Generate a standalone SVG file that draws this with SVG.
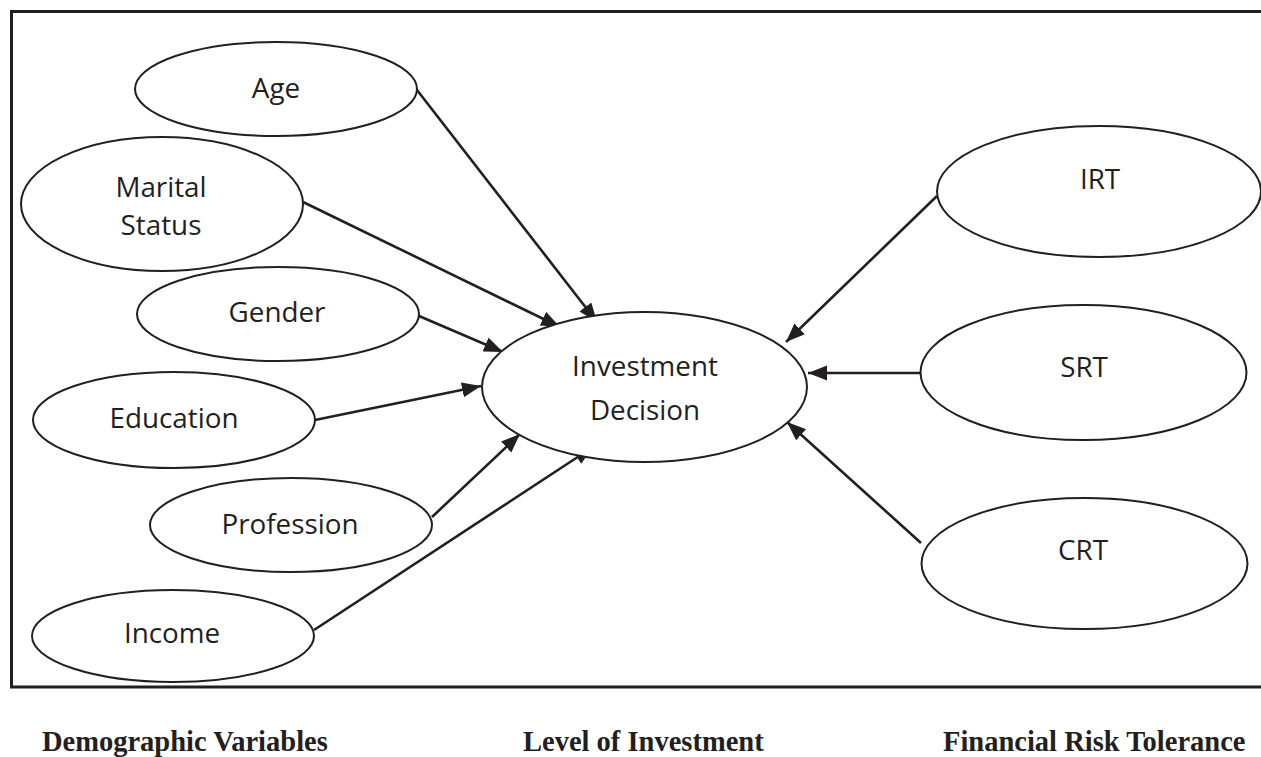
<svg xmlns="http://www.w3.org/2000/svg" width="1261" height="757" viewBox="0 0 1261 757">
  <style>
    .node ellipse { fill: #ffffff; stroke: #231f20; stroke-width: 2; }
    .node text { font-family: "Open Sans", "Noto Sans", sans-serif; font-size: 27.8px; fill: #231f20; text-anchor: middle; }
    .edge { stroke: #231f20; stroke-width: 2.6; fill: none; marker-end: url(#arrow); }
    .caption { font-family: "Liberation Serif", "Times New Roman", serif; font-weight: bold; font-size: 28.5px; fill: #231f20; }
    .frame { fill: none; stroke: #231f20; stroke-width: 3; }
  </style>
  <defs>
    <marker id="arrow" markerUnits="userSpaceOnUse" markerWidth="20" markerHeight="16" refX="19" refY="7.5" orient="auto">
      <path d="M0,0 L19,7.5 L0,15 z" fill="#231f20"/>
    </marker>
  </defs>

  <rect width="1261" height="757" fill="#ffffff"/>

  <!-- outer frame, open on the right -->
  <path class="frame" d="M1265,11.5 H11.5 V687 H1265"/>

  <!-- connectors -->
  <g id="connectors">
    <line class="edge" x1="417" y1="90" x2="597" y2="322"/>
    <line class="edge" x1="303" y1="202" x2="560" y2="327"/>
    <line class="edge" x1="419" y1="316" x2="503" y2="352"/>
    <line class="edge" x1="315" y1="420" x2="481" y2="386"/>
    <line class="edge" x1="432" y1="517" x2="520" y2="434"/>
    <line class="edge" x1="314" y1="630" x2="593" y2="447"/>
    <line class="edge" x1="937" y1="196" x2="786" y2="342"/>
    <line class="edge" x1="920" y1="373" x2="808" y2="373"/>
    <line class="edge" x1="921" y1="543" x2="787" y2="422"/>
  </g>

  <!-- demographic variables -->
  <g id="age" class="node">
    <ellipse cx="276" cy="89" rx="141" ry="47"/>
    <text x="276" y="98">Age</text>
  </g>
  <g id="marital-status" class="node">
    <ellipse cx="162" cy="204" rx="141" ry="67"/>
    <text x="161" y="197">Marital</text>
    <text x="161" y="235">Status</text>
  </g>
  <g id="gender" class="node">
    <ellipse cx="278" cy="314" rx="141" ry="47"/>
    <text x="277" y="322">Gender</text>
  </g>
  <g id="education" class="node">
    <ellipse cx="174" cy="420" rx="141" ry="48"/>
    <text x="174" y="428">Education</text>
  </g>
  <g id="profession" class="node">
    <ellipse cx="291" cy="525" rx="141" ry="47"/>
    <text x="290" y="534">Profession</text>
  </g>
  <g id="income" class="node">
    <ellipse cx="173" cy="636" rx="141" ry="46"/>
    <text x="172" y="643">Income</text>
  </g>

  <!-- level of investment -->
  <g id="investment-decision" class="node">
    <ellipse cx="644.5" cy="387" rx="162.5" ry="75"/>
    <text x="645" y="376">Investment</text>
    <text x="645" y="420">Decision</text>
  </g>

  <!-- financial risk tolerance -->
  <g id="irt" class="node">
    <ellipse cx="1099" cy="191.5" rx="162" ry="65.5"/>
    <text x="1100" y="189">IRT</text>
  </g>
  <g id="srt" class="node">
    <ellipse cx="1083.5" cy="372.5" rx="163" ry="67.5"/>
    <text x="1084" y="377">SRT</text>
  </g>
  <g id="crt" class="node">
    <ellipse cx="1084.5" cy="563.5" rx="163" ry="65.5"/>
    <text x="1083" y="560">CRT</text>
  </g>

  <!-- column captions -->
  <g id="captions">
    <text class="caption" x="42" y="751">Demographic Variables</text>
    <text class="caption" x="523" y="751">Level of Investment</text>
    <text class="caption" x="943" y="751">Financial Risk Tolerance</text>
  </g>
</svg>
